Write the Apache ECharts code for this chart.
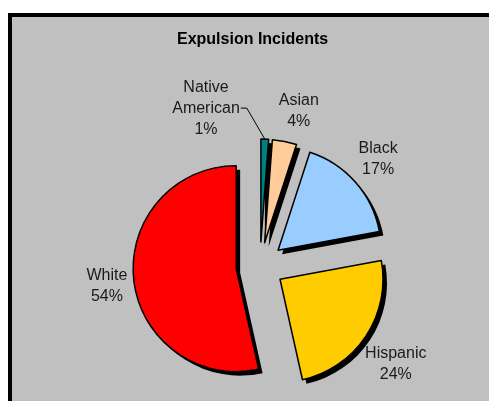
<!DOCTYPE html>
<html><head><meta charset="utf-8">
<script src="https://cdn.jsdelivr.net/npm/echarts@6/dist/echarts.min.js"></script>
<style>html,body{margin:0;padding:0;background:#fff}#c{width:489px;height:401px}</style>
</head><body><div id="c"></div>
<script>
const categories = ['Native American', 'Asian', 'Black', 'Hispanic', 'White'];
const shares = [1.2, 3.8, 17.1, 24.4, 53.5];
const sliceColors = ['#008080', '#FFCC99', '#99CCFF', '#FFCC00', '#FF0000'];
const chartTitle = 'Expulsion Incidents';

const chart = echarts.init(document.getElementById('c'), null, {renderer: 'canvas'});
const FONT = '"Liberation Sans", Arial, sans-serif';
const CENTER = [260, 266];
const SHADOW = 4;
const labelReach = [6, 32, 30, 37, 24];

const sliceStyle = {borderColor: '#000', borderWidth: 1.5};
const data = categories.map((name, i) => ({
  name: name,
  value: shares[i],
  selected: true,
  itemStyle: Object.assign({color: sliceColors[i]}, sliceStyle),
  labelLine: i === 0 ? {show: true, length: labelReach[i], length2: 6} : {show: false, length: labelReach[i], length2: 0}
}));
const shadowData = categories.map((name, i) => ({name: name, value: shares[i], selected: true}));

const common = {
  type: 'pie',
  radius: 103,
  startAngle: 90,
  clockwise: true,
  selectedMode: 'multiple',
  selectedOffset: 24,
  avoidLabelOverlap: false,
  percentPrecision: 0,
  emphasis: {disabled: true}
};

function placeLabel(p) {
  const r = p.labelRect;
  if (p.dataIndex === 0) {
    // Native American: label moved up-left of its thin slice, joined by a leader line
    const dx = -70, dy = -25;
    const midY = r.y + r.height / 2 + dy;
    const rightEdge = r.x + dx + r.width / 2 + 1;
    const tip = p.labelLinePoints ? p.labelLinePoints[0] : [rightEdge + 20, midY + 30];
    return {
      dx: dx, dy: dy, align: 'center', verticalAlign: 'middle',
      labelLinePoints: [tip, [rightEdge + 6, midY], [rightEdge, midY]]
    };
  }
  const nudge = {1: [3, 1], 2: [-5, -3], 3: [-6, 8], 4: [2, 4]}[p.dataIndex];
  return {dx: nudge[0], dy: nudge[1], align: 'center', verticalAlign: 'middle'};
}

chart.setOption({
  backgroundColor: '#fff',
  animation: false,
  graphic: [{
    type: 'rect', z: -10, silent: true,
    shape: {x: 10, y: 15, width: 500, height: 420},
    style: {fill: '#C0C0C0', stroke: '#000', lineWidth: 4}
  }],
  title: {
    text: chartTitle, left: 177, top: 32, padding: 0,
    textStyle: {fontFamily: FONT, fontSize: 16, fontWeight: 'bold', color: '#000'}
  },
  series: [
    Object.assign({}, common, {
      name: 'shadow', z: 1, silent: true,
      center: [CENTER[0] + SHADOW, CENTER[1] + SHADOW],
      itemStyle: {color: '#000', borderWidth: 0},
      select: {itemStyle: {color: '#000', borderWidth: 0}},
      label: {show: false}, labelLine: {show: false},
      data: shadowData
    }),
    Object.assign({}, common, {
      name: 'Expulsion Incidents', z: 2,
      center: CENTER,
      select: {itemStyle: sliceStyle},
      label: {
        show: true, position: 'outside',
        formatter: p => p.name.replace(' ', '\n') + '\n' + p.percent + '%',
        fontFamily: FONT, fontSize: 16, lineHeight: 21, color: '#1a1a1a'
      },
      labelLine: {lineStyle: {color: '#000', width: 1}},
      labelLayout: placeLabel,
      data: data
    })
  ]
});
</script></body></html>
